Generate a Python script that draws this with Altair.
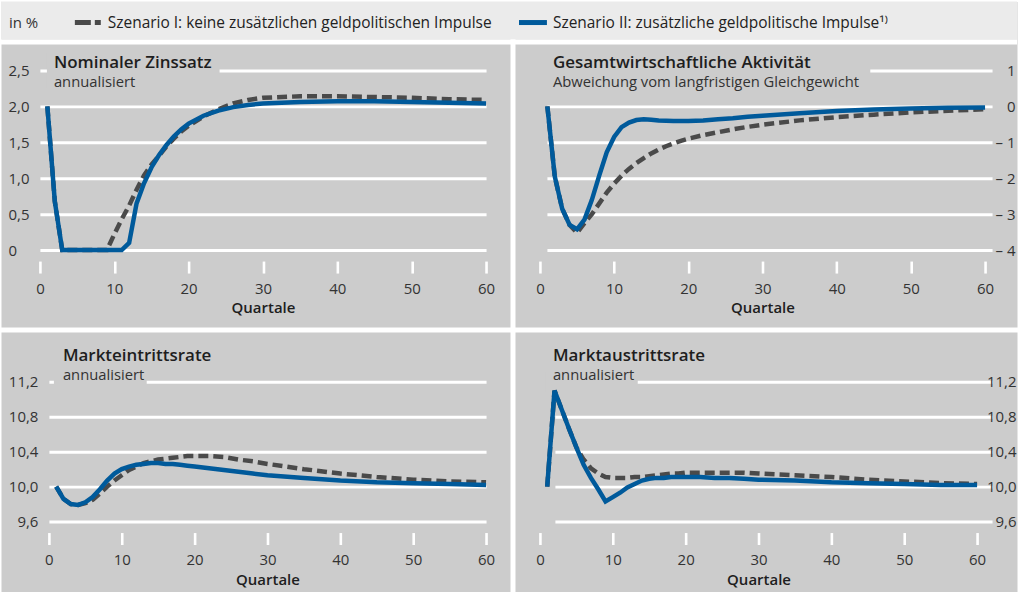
import altair as alt
import pandas as pd

FONT = "Open Sans"
INK = "#1e1e1e"
SOFT_INK = "#333333"
BLUE = "#005a9b"
DARK_GREY = "#4a4a4a"
PANEL_BG = "#cccccc"
STRIP_BG = "#ebebeb"

# Simulation horizon (quarters)
QUARTERS = list(range(1, 21)) + [22, 24, 26, 28, 30, 35, 40, 45, 50, 55, 60]

# Nominal interest rate, annualised (%)
ZINS_I = [2.0, 0.68, 0, 0, 0, 0, 0, 0, 0, 0.22, 0.43, 0.62, 0.84, 1.04, 1.19, 1.31, 1.44, 1.55, 1.65, 1.73,
          1.86, 1.96, 2.04, 2.09, 2.12, 2.14, 2.14, 2.13, 2.12, 2.10, 2.09]
ZINS_II = [2.0, 0.68, 0, 0, 0, 0, 0, 0, 0, 0, 0, 0.1, 0.65, 0.93, 1.15, 1.32, 1.46, 1.58, 1.68, 1.76,
           1.87, 1.94, 1.99, 2.02, 2.04, 2.06, 2.07, 2.07, 2.06, 2.05, 2.04]

# Economic activity, deviation from long-run equilibrium
AKT_I = [0, -1.95, -2.85, -3.3, -3.52, -3.25, -3.0, -2.7, -2.4, -2.15, -1.93, -1.74, -1.58, -1.44, -1.31,
         -1.2, -1.11, -1.03, -0.96, -0.9, -0.8, -0.72, -0.64, -0.57, -0.51, -0.39, -0.3, -0.23, -0.17,
         -0.12, -0.08]
AKT_II = [0, -1.95, -2.85, -3.3, -3.42, -3.15, -2.6, -1.92, -1.28, -0.85, -0.58, -0.45, -0.38, -0.36, -0.37,
          -0.39, -0.40, -0.41, -0.41, -0.41, -0.39, -0.36, -0.33, -0.29, -0.26, -0.19, -0.13, -0.09, -0.06,
          -0.04, -0.03]

# Firm entry rate, annualised (%)
EIN_I = [10.0, 9.86, 9.8, 9.79, 9.81, 9.85, 9.92, 10.0, 10.07, 10.13, 10.19, 10.23, 10.27, 10.29, 10.31,
         10.32, 10.33, 10.34, 10.35, 10.35, 10.35, 10.34, 10.31, 10.29, 10.26, 10.2, 10.15, 10.11, 10.08,
         10.06, 10.05]
EIN_II = [10.0, 9.86, 9.8, 9.79, 9.82, 9.88, 9.97, 10.07, 10.15, 10.2, 10.23, 10.25, 10.26, 10.27, 10.27,
          10.26, 10.26, 10.25, 10.24, 10.23, 10.21, 10.19, 10.17, 10.15, 10.13, 10.1, 10.07, 10.05, 10.04,
          10.03, 10.02]

# Firm exit rate, annualised (%)
AUS_I = [10.0, 11.1, 10.88, 10.66, 10.45, 10.31, 10.21, 10.15, 10.11, 10.1, 10.1, 10.1, 10.11, 10.11, 10.12,
         10.13, 10.14, 10.15, 10.15, 10.16, 10.16, 10.16, 10.16, 10.16, 10.15, 10.13, 10.11, 10.08, 10.06,
         10.04, 10.03]
AUS_II = [10.0, 11.1, 10.88, 10.66, 10.45, 10.25, 10.1, 9.97, 9.83, 9.88, 9.93, 9.99, 10.03, 10.07, 10.09,
          10.1, 10.1, 10.11, 10.11, 10.11, 10.11, 10.1, 10.1, 10.09, 10.08, 10.07, 10.05, 10.04, 10.03,
          10.02, 10.02]

SERIES = [
    "Szenario I: keine zusätzlichen geldpolitischen Impulse",
    "Szenario II: zusätzliche geldpolitische Impulse¹⁾",
]
UNIT_LABEL = "in %"
X_TITLE = "Quartale"

X_TICKS = [0, 10, 20, 30, 40, 50, 60]
Y_TICKS_ZINS = [0, 0.5, 1.0, 1.5, 2.0, 2.5]
Y_TICKS_AKT = [-4, -3, -2, -1, 0, 1]
Y_TICKS_RATE = [9.6, 10.0, 10.4, 10.8, 11.2]

EXPR_ZINS = "datum.value == 0 ? '0' : replace(format(datum.value, '.1f'), '.', ',')"
EXPR_AKT = "datum.value < 0 ? '– ' + format(-datum.value, 'd') : format(datum.value, 'd')"
EXPR_RATE = "replace(format(datum.value, '.1f'), '.', ',')"

STRIP_H = 38   # height of the legend strip above the upper panels
STRIP_GAP = 5  # white band between strip and panels


def text_layer(txt, x, y, size, weight, color):
    return alt.Chart(pd.DataFrame({"t": [txt]})).mark_text(
        align="left", baseline="middle", font=FONT, fontSize=size, fontWeight=weight, color=color
    ).encode(text="t:N", x=alt.value(x), y=alt.value(y))


def block(x0, x1, y0, y1, color):
    return alt.Chart(pd.DataFrame({"a": [0]})).mark_rect(color=color).encode(
        x=alt.value(x0), x2=alt.value(x1), y=alt.value(y0), y2=alt.value(y1)
    )


def key(x0, x1, y, color, dash=None):
    props = dict(color=color, strokeWidth=5)
    if dash:
        props["strokeDash"] = dash
    return alt.Chart(pd.DataFrame({"a": [0]})).mark_rule(**props).encode(
        x=alt.value(x0), x2=alt.value(x1), y=alt.value(y)
    )


def panel(vals_i, vals_ii, *, width, height, x_range, y_domain, y_range, y_ticks, y_expr,
          y_orient, y_offset, y_align, x_axis_at, title, subtitle, title_x, title_y, box,
          extras=()):
    df = pd.DataFrame({"q": QUARTERS, "s1": vals_i, "s2": vals_ii})
    x_scale = alt.Scale(domain=[0, 60], range=x_range, nice=False, zero=False)
    y_scale = alt.Scale(domain=y_domain, range=y_range, nice=False, zero=False)
    x_axis = alt.Axis(
        values=X_TICKS, orient="bottom", offset=x_axis_at - height, domain=False, grid=False,
        ticks=True, tickColor="white", tickSize=12, tickWidth=2.6, format="d",
        labelFont=FONT, labelFontSize=15, labelColor=SOFT_INK, labelPadding=8, labelFlush=False,
        title=X_TITLE, titleFont=FONT, titleFontSize=15, titleFontWeight=600, titleColor=INK,
        titleBaseline="top", titleY=40,
    )
    y_axis = alt.Axis(
        values=y_ticks, orient=y_orient, offset=y_offset, domain=False, ticks=False,
        grid=True, gridColor="white", gridWidth=3, labelExpr=y_expr, labelAlign=y_align,
        labelBaseline="middle", labelPadding=0, labelFont=FONT, labelFontSize=15,
        labelColor=SOFT_INK, labelFlush=False, title="",
    )
    base = alt.Chart(df)
    grey = base.mark_line(color=DARK_GREY, strokeWidth=4.5, strokeDash=[10, 5]).encode(
        x=alt.X("q:Q", scale=x_scale, axis=x_axis),
        y=alt.Y("s1:Q", scale=y_scale, axis=y_axis),
    )
    blue = base.mark_line(color=BLUE, strokeWidth=4.5).encode(
        x=alt.X("q:Q", scale=x_scale, axis=x_axis),
        y=alt.Y("s2:Q", scale=y_scale, axis=y_axis),
    )
    # gap in the top gridline behind the panel heading
    gap = block(box[0], box[1], box[2], box[3], PANEL_BG)
    head = text_layer(title, title_x, title_y, 17, 600, INK)
    sub = text_layer(subtitle, title_x, title_y + 20, 14.8, 400, SOFT_INK)
    return alt.layer(*extras, gap, grey, blue, head, sub).properties(
        width=width, height=height, view=alt.ViewBackground(fill=PANEL_BG, stroke="transparent")
    )


top = STRIP_H + STRIP_GAP
mid = STRIP_H / 2 + 2

# legend strip, split over the two upper panels
left_strip = [
    block(0, 515, 0, STRIP_H, STRIP_BG),
    block(0, 515, STRIP_H, top, "white"),
    text_layer(UNIT_LABEL, 8, mid, 15, 400, SOFT_INK),
    key(74, 100, mid, DARK_GREY, dash=[16, 4]),
    text_layer(SERIES[0], 107, mid, 15.5, 500, "#222222"),
]
right_strip = [
    block(0, 503, 0, STRIP_H, STRIP_BG),
    block(0, 503, STRIP_H, top, "white"),
    key(4, 32, mid, BLUE),
    text_layer(SERIES[1], 38, mid, 15.5, 500, "#222222"),
]

p1 = panel(ZINS_I, ZINS_II, width=510, height=283 + top, x_range=[39, 486], y_domain=[0, 2.5],
           y_range=[206 + top, 26 + top], y_ticks=Y_TICKS_ZINS, y_expr=EXPR_ZINS, y_orient="left",
           y_offset=-7, y_align="left", x_axis_at=217 + top, title="Nominaler Zinssatz",
           subtitle="annualisiert", title_x=53, title_y=19 + top, box=[46, 219, 8 + top, 44 + top],
           extras=left_strip)
p2 = panel(AKT_I, AKT_II, width=503, height=283 + top, x_range=[25, 471], y_domain=[-4, 1],
           y_range=[206 + top, 26 + top], y_ticks=Y_TICKS_AKT, y_expr=EXPR_AKT, y_orient="right",
           y_offset=-2, y_align="right", x_axis_at=217 + top, title="Gesamtwirtschaftliche Aktivität",
           subtitle="Abweichung vom langfristigen Gleichgewicht", title_x=38, title_y=19 + top,
           box=[32, 356, 8 + top, 44 + top], extras=right_strip)
p3 = panel(EIN_I, EIN_II, width=510, height=261, x_range=[48, 486], y_domain=[9.6, 11.2],
           y_range=[190, 50], y_ticks=Y_TICKS_RATE, y_expr=EXPR_RATE, y_orient="left",
           y_offset=-37, y_align="right", x_axis_at=201, title="Markteintrittsrate",
           subtitle="annualisiert", title_x=62, title_y=24, box=[53, 146, 40, 60])
p4 = panel(AUS_I, AUS_II, width=503, height=261, x_range=[25, 463], y_domain=[9.6, 11.2],
           y_range=[190, 50], y_ticks=Y_TICKS_RATE, y_expr=EXPR_RATE, y_orient="right",
           y_offset=-1, y_align="right", x_axis_at=201, title="Marktaustrittsrate",
           subtitle="annualisiert", title_x=38, title_y=24, box=[31, 123, 40, 60])

chart = alt.concat(
    p1, p2, p3, p4, columns=2, spacing=5, bounds="flush"
).properties(padding=0, background="white").configure(
    font=FONT
).configure_view(
    fill=PANEL_BG, stroke="transparent"
)

chart.save("out.html", embed_options={"renderer": "svg", "actions": False})
